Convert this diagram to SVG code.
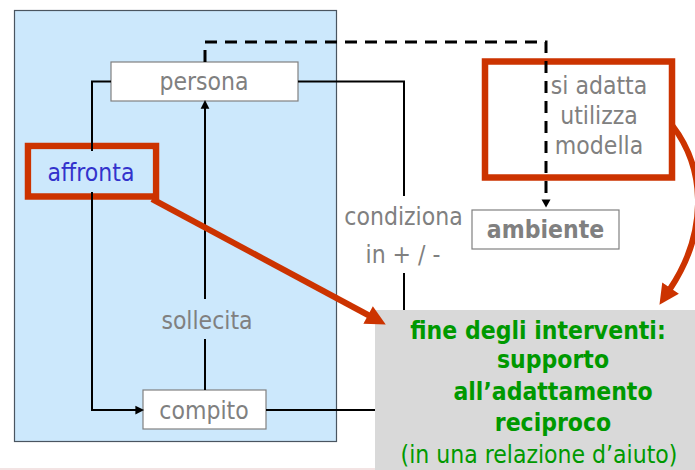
<svg xmlns="http://www.w3.org/2000/svg" width="695" height="470" viewBox="0 0 695 470">
<defs>
<style>
.t{font-family:"DejaVu Sans Condensed","DejaVu Sans","Liberation Sans",sans-serif;font-stretch:condensed;font-size:24.5px;text-anchor:middle}
.g{fill:#808080}
.box{fill:#ffffff;stroke:#808080;stroke-width:1.2}
.red{fill:none;stroke:#CC3300;stroke-width:6.5}
.ln{fill:none;stroke:#000;stroke-width:2}
.dash{fill:none;stroke:#000;stroke-width:3;stroke-dasharray:12 8}
.rarrow{fill:none;stroke:#CC3300;stroke-width:6}
.green{fill:#009900}
</style>
<marker id="ah" markerUnits="userSpaceOnUse" markerWidth="10" markerHeight="10" viewBox="0 -4 8 8" refX="0.5" refY="0" orient="auto">
<path d="M0,-3.5 L7,0 L0,3.5 z" fill="#000"/>
</marker>
<marker id="ahd" markerUnits="userSpaceOnUse" markerWidth="10" markerHeight="10" viewBox="0 -5 9 10" refX="0.5" refY="0" orient="auto">
<path d="M0,-4.5 L8,0 L0,4.5 z" fill="#000"/>
</marker>
<marker id="ahr" markerUnits="userSpaceOnUse" markerWidth="22" markerHeight="22" viewBox="0 -11 21 22" refX="1" refY="0" orient="auto">
<path d="M0,-10 L20,0 L0,10 z" fill="#CC3300"/>
</marker>
</defs>

<rect x="0" y="0" width="695" height="470" fill="#ffffff"/>
<line x1="0" y1="469" x2="375" y2="469" stroke="#E8C8C8" stroke-width="1.2"/>

<g id="area-persona-compito">
<rect x="14.5" y="10.5" width="322" height="431" fill="#CCE8FC" stroke="#4A5560" stroke-width="1.2"/>
</g>

<g id="node-persona">
<rect class="box" x="111" y="62" width="187" height="39"/>
<text class="t g" x="204" y="90">persona</text>
</g>

<g id="node-compito">
<rect class="box" x="143" y="390" width="123" height="39"/>
<text class="t g" x="204" y="419">compito</text>
</g>

<g id="node-affronta">
<rect class="red" x="28" y="146" width="128" height="50.5"/>
<rect x="31.5" y="149.5" width="121" height="43.5" fill="#CCE8FC"/>
<text class="t" x="91" y="181" fill="#3333CC">affronta</text>
</g>

<g id="node-si-adatta">
<rect class="red" x="485" y="61.5" width="187" height="116"/>
<text class="t g" x="599" y="94">si adatta</text>
<text class="t g" x="599" y="124">utilizza</text>
<text class="t g" x="599" y="154">modella</text>
</g>

<g id="node-ambiente">
<rect class="box" x="472" y="210" width="147" height="39"/>
<text class="t g" x="545.5" y="238" font-weight="bold">ambiente</text>
</g>

<g id="node-fine">
<rect x="375" y="310" width="320" height="160" fill="#D9D9D9"/>
<text class="t green" x="538" y="339" font-weight="bold">fine degli interventi:</text>
<text class="t green" x="553" y="368" font-weight="bold">supporto</text>
<text class="t green" x="553" y="400" font-weight="bold">all’adattamento</text>
<text class="t green" x="553" y="431" font-weight="bold">reciproco</text>
<text class="t green" x="539" y="463">(in una relazione d’aiuto)</text>
</g>

<g id="labels">
<text class="t g" x="207" y="329">sollecita</text>
<text class="t g" x="403.5" y="225">condiziona</text>
<text class="t g" x="403" y="263">in + / -</text>
</g>

<g id="connectors">
<path class="ln" d="M111,81.5 H92 V151"/>
<path class="ln" d="M92,192 V410 H136" marker-end="url(#ah)"/>
<path class="ln" d="M205,390 V339"/>
<path class="ln" d="M205,299 V108" marker-end="url(#ah)"/>
<path class="ln" d="M298,81.5 H404 V196"/>
<path class="ln" d="M404,273 V310"/>
<path class="ln" d="M266,410 H375"/>
<path class="dash" d="M205,62 V42 H546 V200" marker-end="url(#ahd)"/>
<path class="rarrow" d="M152,199 L369,315.5" marker-end="url(#ahr)"/>
<path class="rarrow" d="M672,125 C708,172 706,235 670,289" marker-end="url(#ahr)"/>
</g>
</svg>
